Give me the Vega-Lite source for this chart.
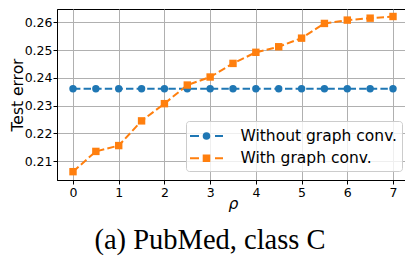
{
  "$schema": "https://vega.github.io/schema/vega-lite/v6.json",
  "autosize": "none",
  "padding": {"left": 57, "top": 9, "right": 0, "bottom": 79},
  "width": 352,
  "height": 171,
  "background": "white",
  "config": {
    "font": "DejaVu Sans",
    "view": {"stroke": "black", "strokeWidth": 1},
    "axis": {
      "labelFont": "DejaVu Sans",
      "labelFontSize": 12.5,
      "labelColor": "black",
      "titleFont": "DejaVu Sans",
      "titleFontSize": 15.5,
      "titleFontWeight": "normal",
      "titleColor": "black",
      "tickColor": "black",
      "tickSize": 4,
      "domainColor": "black",
      "gridColor": "#b0b0b0",
      "gridWidth": 1,
      "labelPadding": 2
    }
  },
  "title": {
    "text": "(a) PubMed, class C",
    "orient": "bottom",
    "anchor": "middle",
    "font": "Liberation Serif",
    "fontSize": 28.5,
    "fontWeight": "normal",
    "color": "black",
    "offset": 14,
    "dx": -23
  },
  "data": {
    "values": [
      {"rho": 0, "err": 0.2361, "series": "Without graph conv."},
      {"rho": 0.5, "err": 0.2361, "series": "Without graph conv."},
      {"rho": 1, "err": 0.2361, "series": "Without graph conv."},
      {"rho": 1.5, "err": 0.2361, "series": "Without graph conv."},
      {"rho": 2, "err": 0.2361, "series": "Without graph conv."},
      {"rho": 2.5, "err": 0.2361, "series": "Without graph conv."},
      {"rho": 3, "err": 0.2361, "series": "Without graph conv."},
      {"rho": 3.5, "err": 0.2361, "series": "Without graph conv."},
      {"rho": 4, "err": 0.2361, "series": "Without graph conv."},
      {"rho": 4.5, "err": 0.2361, "series": "Without graph conv."},
      {"rho": 5, "err": 0.2361, "series": "Without graph conv."},
      {"rho": 5.5, "err": 0.2361, "series": "Without graph conv."},
      {"rho": 6, "err": 0.2361, "series": "Without graph conv."},
      {"rho": 6.5, "err": 0.2361, "series": "Without graph conv."},
      {"rho": 7, "err": 0.2361, "series": "Without graph conv."},
      {"rho": 0, "err": 0.2062, "series": "With graph conv."},
      {"rho": 0.5, "err": 0.2135, "series": "With graph conv."},
      {"rho": 1, "err": 0.2156, "series": "With graph conv."},
      {"rho": 1.5, "err": 0.2245, "series": "With graph conv."},
      {"rho": 2, "err": 0.2307, "series": "With graph conv."},
      {"rho": 2.5, "err": 0.2374, "series": "With graph conv."},
      {"rho": 3, "err": 0.2403, "series": "With graph conv."},
      {"rho": 3.5, "err": 0.2452, "series": "With graph conv."},
      {"rho": 4, "err": 0.2492, "series": "With graph conv."},
      {"rho": 4.5, "err": 0.2512, "series": "With graph conv."},
      {"rho": 5, "err": 0.2543, "series": "With graph conv."},
      {"rho": 5.5, "err": 0.2596, "series": "With graph conv."},
      {"rho": 6, "err": 0.2608, "series": "With graph conv."},
      {"rho": 6.5, "err": 0.2615, "series": "With graph conv."},
      {"rho": 7, "err": 0.2621, "series": "With graph conv."}
    ]
  },
  "encoding": {
    "x": {
      "field": "rho",
      "type": "quantitative",
      "scale": {"domain": [-0.35, 7.35], "nice": false, "zero": false},
      "axis": {"values": [0, 1, 2, 3, 4, 5, 6, 7], "format": "d", "title": "ρ", "titleFontStyle": "italic", "titlePadding": -2}
    },
    "y": {
      "field": "err",
      "type": "quantitative",
      "scale": {"domain": [0.2032, 0.2648], "nice": false, "zero": false},
      "axis": {"values": [0.21, 0.22, 0.23, 0.24, 0.25, 0.26], "format": ".2f", "title": "Test error", "titlePadding": -1, "labelPadding": 1}
    },
    "color": {
      "field": "series",
      "type": "nominal",
      "scale": {"domain": ["Without graph conv.", "With graph conv."], "range": ["#1f77b4", "#ff7f0e"]},
      "legend": {
        "title": null,
        "orient": "none",
        "legendX": 129,
        "legendY": 112,
        "padding": 4,
        "fillColor": "rgba(255,255,255,0.8)",
        "strokeColor": "#cccccc",
        "cornerRadius": 3,
        "labelFont": "DejaVu Sans",
        "labelFontSize": 15.5,
        "labelColor": "black",
        "symbolSize": 400,
        "symbolStrokeWidth": 2,
        "symbolOffset": 5.5,
        "labelOffset": 23,
        "rowPadding": 2.3,
        "encode": {
          "symbols": {
            "update": {
              "shape": {"signal": "datum.value === 'With graph conv.' ? 'M-1.65,0H-0.75M0.85,0H1.65M-0.28,-0.28H0.28V0.28H-0.28Z' : 'M-1.65,0H-0.75M0.85,0H1.65M0.28,0A0.28,0.28,0,1,1,-0.28,0A0.28,0.28,0,1,1,0.28,0Z'"},
              "fill": {"signal": "scale('color', datum.value)"},
              "stroke": {"signal": "scale('color', datum.value)"},
              "strokeDash": {"value": []},
              "opacity": {"value": 1}
            }
          }
        }
      }
    }
  },
  "layer": [
    {"mark": {"type": "line", "strokeWidth": 2, "strokeDash": [7.4, 3.2]}},
    {
      "transform": [{"filter": "datum.series === 'Without graph conv.'"}],
      "mark": {"type": "point", "shape": "circle", "filled": true, "opacity": 1, "size": 55}
    },
    {
      "transform": [{"filter": "datum.series === 'With graph conv.'"}],
      "mark": {"type": "point", "shape": "square", "filled": true, "opacity": 1, "size": 55}
    }
  ]
}
